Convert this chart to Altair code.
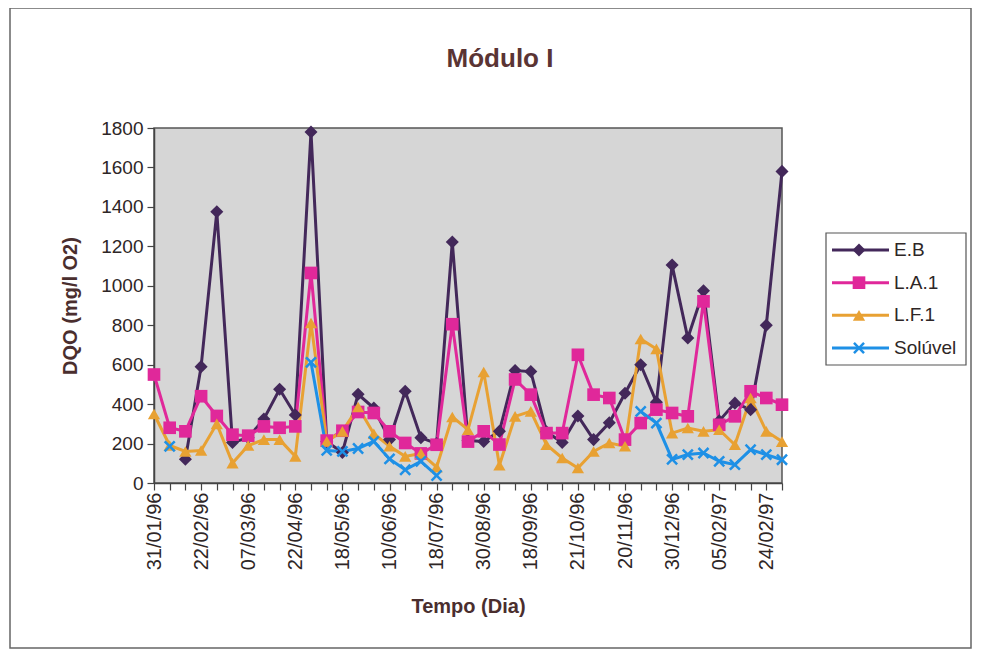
import json
import altair as alt
import pandas as pd

FONT = "Liberation Sans, Arial, Helvetica, sans-serif"

# ---- data ----
chart_title = "Módulo I"
day_labels = ["31/01/96", "22/02/96", "07/03/96", "22/04/96", "18/05/96", "10/06/96",
              "18/07/96", "30/08/96", "18/09/96", "21/10/96", "20/11/96", "30/12/96",
              "05/02/97", "24/02/97"]

eb = [None, None, 120, 590, 1375, 205, 230, 325, 475, 345,
      1780, 210, 155, 450, 380, 220, 465, 230, 200, 1222,
      215, 210, 262, 570, 565, 260, 205, 340, 220, 305,
      455, 600, 410, 1105, 735, 975, 315, 405, 372, 800, 1580]

la1 = [550, 280, 262, 440, 340, 245, 240, 287, 280, 287,
       1065, 215, 265, 360, 355, 262, 203, 150, 194, 805,
       210, 262, 195, 525, 448, 253, 253, 650, 448, 431,
       220, 304, 372, 355, 338, 921, 295, 338, 465, 431, 397]

lf1 = [350, 190, 160, 165, 300, 101, 190, 220, 220, 135,
       811, 211, 262, 385, 250, 186, 135, 150, 80, 335,
       270, 563, 90, 338, 363, 194, 127, 76, 160, 203,
       186, 730, 680, 253, 279, 262, 270, 194, 431, 262, 210]

soluvel = [None, 186, None, None, None, None, None, None, None, None,
           612, 165, 160, 175, 211, 122, 67, 110, 38, None,
           None, None, None, None, None, None, None, None, None, None,
           None, 363, 304, 120, 144, 152, 110, 93, 169, 144, 118]

series_names = ["E.B", "L.A.1", "L.F.1", "Solúvel"]
series_colors = ["#43285a", "#e0289a", "#e8a133", "#1e90e6"]
X_PATH = "M-1,-0.7L-0.7,-1L0,-0.3L0.7,-1L1,-0.7L0.3,0L1,0.7L0.7,1L0,0.3L-0.7,1L-1,0.7L-0.3,0Z"
series_shapes = ["diamond", "square", "triangle-up", X_PATH]
series_sizes = [170, 140, 160, 170]

rows = []
for name, vals in zip(series_names, [eb, la1, lf1, soluvel]):
    for i, v in enumerate(vals):
        rows.append({"idx": i, "serie": name, "dqo": v})
df = pd.DataFrame(rows)
leg_df = pd.DataFrame({"serie": series_names})
one_df = pd.DataFrame({"k": [0]})
title_df = pd.DataFrame({"t": [chart_title]})

n_points = len(eb)
label_expr = ("datum.value % 3 == 0 ? " + json.dumps(day_labels, ensure_ascii=False)
              + "[datum.value / 3] : ''")

PLOT_W, PLOT_H = 628, 355

x_enc = alt.X(
    "idx:Q",
    scale=alt.Scale(domain=[0, n_points - 1], nice=False, zero=False),
    axis=alt.Axis(
        values=list(range(n_points)), labelExpr=label_expr, labelAngle=270,
        labelAlign="right", labelBaseline="middle", labelPadding=2, labelFontSize=20,
        labelFlush=False, labelOverlap=False, tickSize=7, grid=False,
        title="Tempo (Dia)", titleX=PLOT_W / 2, titleY=129,
        titleBaseline="alphabetic", titleAlign="center",
    ),
)
y_enc = alt.Y(
    "dqo:Q",
    scale=alt.Scale(domain=[0, 1800], nice=False),
    axis=alt.Axis(
        values=list(range(0, 1801, 200)), format="d", grid=False, tickSize=7, labelPadding=4,
        title="DQO (mg/l O2)", titleAngle=270, titleX=-84, titleY=PLOT_H / 2,
        titleAlign="center", titleBaseline="middle",
    ),
)
color_enc = alt.Color("serie:N", scale=alt.Scale(domain=series_names, range=series_colors), legend=None)
shape_enc = alt.Shape("serie:N", scale=alt.Scale(domain=series_names, range=series_shapes), legend=None)
size_enc = alt.Size("serie:N", scale=alt.Scale(domain=series_names, range=series_sizes), legend=None)

base = alt.Chart(df)
lines = base.mark_line(strokeWidth=3, invalid="break-paths-filter-domains").encode(
    x=x_enc, y=y_enc, color=color_enc)
points = base.mark_point(filled=True, opacity=1).encode(
    x=x_enc, y=y_enc, color=color_enc, shape=shape_enc, size=size_enc)
data_layer = alt.layer(lines, points)

# ---- legend (custom, line + marker) ----
leg_y = alt.Y("serie:N", scale=alt.Scale(type="point", domain=series_names, range=[122, 220], padding=0), axis=None)
leg_box = alt.Chart(one_df).mark_rect(filled=False, stroke="#555555", strokeWidth=1.2).encode(
    x=alt.value(672), x2=alt.value(812), y=alt.value(105), y2=alt.value(237))
leg_lines = alt.Chart(leg_df).mark_rule(strokeWidth=3).encode(
    x=alt.value(678), x2=alt.value(735), y=leg_y, color=color_enc)
leg_points = alt.Chart(leg_df).mark_point(filled=True, opacity=1).encode(
    x=alt.value(705), y=leg_y, color=color_enc, shape=shape_enc, size=size_enc)
leg_text = alt.Chart(leg_df).mark_text(align="left", baseline="middle", fontSize=19, font=FONT,
                                       color="#2e2626").encode(
    x=alt.value(740), y=leg_y, text="serie:N")
legend_layer = alt.layer(leg_box, leg_lines, leg_points, leg_text)

# ---- title and outer frame ----
title_text = alt.Chart(title_df).mark_text(
    align="center", baseline="alphabetic", font=FONT, fontSize=26, fontWeight="bold", color="#5a3434"
).encode(x=alt.value(346), y=alt.value(-61), text="t:N")

frame = alt.Chart(one_df).mark_rect(filled=False, stroke="#666666", strokeWidth=1.5).encode(
    x=alt.value(-144), x2=alt.value(817), y=alt.value(-120), y2=alt.value(520))

chart = alt.layer(data_layer, legend_layer, title_text, frame).resolve_scale(
    y="independent"
).properties(
    width=PLOT_W, height=PLOT_H,
    padding={"left": 146, "top": 120, "right": 190, "bottom": 166},
    autosize=alt.AutoSizeParams(type="none"),
).configure(background="white").configure_view(
    fill="#d6d6d6", stroke="#555555", strokeWidth=1.5
).configure_axis(
    labelFont=FONT, labelFontSize=19, labelColor="#2e2626",
    titleFont=FONT, titleFontSize=20, titleFontWeight="bold", titleColor="#4a2e2e",
    domainColor="#444444", tickColor="#444444", domainWidth=1.5, tickWidth=1.2,
)

chart.save("out.html", embed_options={"renderer": "svg", "actions": False})
